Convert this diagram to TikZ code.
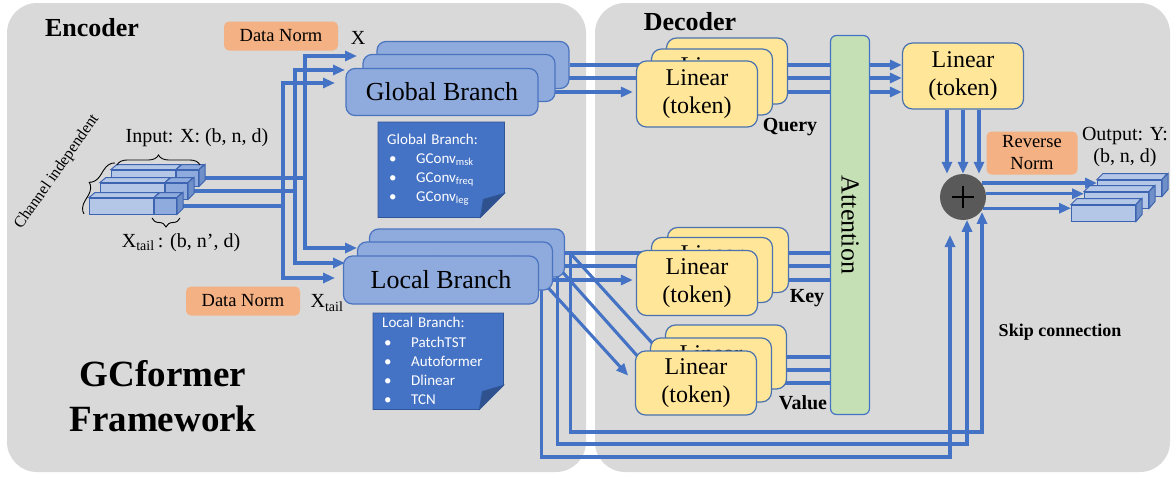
\documentclass[tikz,border=0pt]{standalone}
\usepackage{fontspec}
\setmainfont{Liberation Serif}
\newfontfamily\notefont{Carlito}
\usetikzlibrary{arrows.meta,calc,positioning,decorations.pathreplacing}
\pgfdeclarelayer{bg}
\pgfdeclarelayer{wires}
\pgfsetlayers{bg,wires,main}
\definecolor{panelgray}{HTML}{D9D9D9}
\definecolor{wireblue}{HTML}{4472C4}
\definecolor{branchblue}{HTML}{8FAADC}
\definecolor{branchedge}{HTML}{4A74C0}
\definecolor{notebox}{HTML}{4472C4}
\definecolor{noteedge}{HTML}{2F5597}
\definecolor{notefold}{HTML}{2F528F}
\definecolor{linyellow}{HTML}{FFE699}
\definecolor{linedge}{HTML}{4A72B0}
\definecolor{attgreen}{HTML}{C5E0B4}
\definecolor{normorange}{HTML}{F4B183}
\definecolor{barlight}{HTML}{B4C7E7}
\definecolor{bardark}{HTML}{8FAADC}
\definecolor{barshade}{HTML}{6F8FC8}
\definecolor{baredge}{HTML}{3D64B0}
\definecolor{plusgray}{HTML}{595959}
\newcommand{\setfs}[2]{\fontsize{#1}{#2}\selectfont}

\begin{document}
\begin{tikzpicture}[x=1pt,y=-1pt,>={Triangle[length=12pt,width=10pt]},
    panel/.style={fill=panelgray,rounded corners=30pt},
    wire/.style={draw=wireblue,line width=3.1pt},
    arr/.style={wire,->},
    branch/.style={draw=branchedge,fill=branchblue,line width=1.2pt,rounded corners=9pt,
      minimum width=192pt,minimum height=47pt,font=\setfs{26}{30}},
    lin/.style={draw=linedge,fill=linyellow,line width=1.2pt,rounded corners=10pt,
      minimum width=121pt,minimum height=66pt,align=center,font=\setfs{24}{28}},
    norm/.style={fill=normorange,rounded corners=5pt,minimum width=114pt,
      minimum height=29pt,align=center,font=\setfs{18.5}{22}},
    note/.style={text=white,font=\notefont\setfs{15}{19.2},align=left,
      inner xsep=9pt,inner ysep=0pt,anchor=north west},
    notebg/.style={fill=notebox,draw=noteedge,line width=0.8pt},
    barbody/.style={draw=baredge,fill=barlight,line width=1pt,inner sep=0pt,
      minimum width=64pt,minimum height=16pt},
    bartail/.style={draw=baredge,fill=bardark,line width=1pt,inner sep=0pt,
      minimum width=22pt,minimum height=16pt},
    barside/.style={draw=baredge,fill=barshade,line width=1pt},
    txt/.style={inner sep=0pt,font=\setfs{20}{22}},
    tag/.style={inner sep=0pt,font=\bfseries\setfs{20}{22}},
    hdr/.style={inner sep=0pt,font=\bfseries\setfs{26}{30}},
    brc/.style={draw,line width=0.9pt,decorate,decoration={brace,amplitude=10pt}}]

  \useasboundingbox (0,0) rectangle (1176,479);

  \foreach \n/\x/\y in {1/111/178,2/100/191,3/89/206}{
    \node[barbody,anchor=west] (in\n) at (\x,\y) {};
    \node[bartail,anchor=west] (tl\n) at (in\n.east) {};
    \filldraw[barbody] (in\n.north west) -- ++(6,-5) -- ++(64,0) -- (in\n.north east) -- cycle;
    \filldraw[bartail] (tl\n.north west) -- ++(6,-5) -- ++(22,0) -- (tl\n.north east) -- cycle;
    \filldraw[barside] (tl\n.north east) -- ++(6,-5) -- ++(0,16) -- (tl\n.south east) -- cycle;
  }

  \draw[brc] (117,165) -- (200,165);
  \draw[brc,decoration={amplitude=9pt}] (180,218) -- (152,218);
  \draw[brc,decoration={amplitude=12pt}] (84,214) -- (115,163);

  \node[txt] (inlab) at (197,138) {Input: X: (b, n, d)};
  \node[txt] (tllab) at (181,243) {X\textsubscript{tail}\,: (b, n’, d)};
  \node[txt,rotate=55,font=\setfs{16}{18}] (chlab) at (57,172) {Channel independent};

  \node[hdr] (enc) at (92,28) {Encoder};
  \node[hdr] (dec) at (690,22) {Decoder};
  \node[hdr,align=center,font=\bfseries\setfs{37}{45}] (name) at (163,396) {GCformer\\Framework};

  \node[norm] (dn1) at (281,36) {Data Norm};
  \node[txt] (xlab) at (358,38) {X};
  \node[norm] (dn2) at (243,301) {Data Norm};
  \node[txt] (xtl) at (327,303) {X\textsubscript{tail}};

  \node[branch] (gb1) at (473,65) {};
  \node[branch] (gb2) at (459,78) {};
  \node[branch] (gb3) at (442,92) {Global Branch};

  \node[branch,minimum width=195pt,minimum height=48pt] (lb1) at (467,253) {};
  \node[branch,minimum width=195pt,minimum height=48pt] (lb2) at (455,266) {Local Branch};
  \node[branch,minimum width=195pt,minimum height=48pt] (lb3) at (441,280) {Local Branch};

  \node[note,text width=108pt,minimum height=95pt] (gnote) at (378,122)
    {Global Branch:\\
     \hspace*{2pt}\makebox[27pt][l]{•}GConv\textsubscript{msk}\\
     \hspace*{2pt}\makebox[27pt][l]{•}GConv\textsubscript{freq}\\
     \hspace*{2pt}\makebox[27pt][l]{•}GConv\textsubscript{leg}};
  \node[note,text width=112pt,minimum height=96pt] (lnote) at (373,313)
    {Local Branch:\\
     \hspace*{2pt}\makebox[27pt][l]{•}PatchTST\\
     \hspace*{2pt}\makebox[27pt][l]{•}Autoformer\\
     \hspace*{2pt}\makebox[27pt][l]{•}Dlinear\\
     \hspace*{2pt}\makebox[27pt][l]{•}TCN};

  \node[lin] (q1) at (727,71) {};
  \node[lin] (q2) at (712,82) {Linear\\(token)};
  \node[lin] (q3) at (697,94) {Linear\\(token)};
  \node[tag] (qlab) at (790,127) {Query};

  \node[lin,minimum height=65pt] (k1) at (728,260) {};
  \node[lin,minimum height=65pt] (k2) at (712,270) {Linear\\(token)};
  \node[lin,minimum height=65pt] (k3) at (697,283) {Linear\\(token)};
  \node[tag] (klab) at (807,298) {Key};

  \node[lin,minimum height=64pt] (v1) at (726,357) {};
  \node[lin,minimum height=64pt] (v2) at (711,370) {Linear\\(token)};
  \node[lin,minimum height=64pt] (v3) at (696,383) {Linear\\(token)};
  \node[tag] (vlab) at (803,403) {Value};

  \node[draw=wireblue,fill=attgreen,line width=1.2pt,rounded corners=6pt,rotate=-90,
    minimum width=379pt,minimum height=39pt,font=\setfs{26}{30}] (att) at (850,225) {Attention};

  \node[lin] (fin) at (963,76) {Linear\\(token)};
  \node[circle,fill=plusgray,minimum size=46pt,inner sep=0pt] (plus) at (963,197) {};
  \draw[line width=2.4pt] (plus.center) +(-11,0) -- +(11,0) +(0,-11) -- +(0,11);

  \node[norm,minimum width=91pt,minimum height=43pt] (rn) at (1032,153) {Reverse\\Norm};
  \node[txt,align=center] (outlab) at (1125,147) {Output: Y:\\(b, n, d)};
  \node[tag,font=\bfseries\setfs{18}{20}] (skip) at (1060,332) {Skip connection};

  \foreach \n/\x/\y in {1/1097/188,2/1084/200,3/1071/213}{
    \node[barbody,anchor=west] (ob\n) at (\x,\y) {};
    \filldraw[barbody] (ob\n.north west) -- ++(6,-6) -- ++(64,0) -- (ob\n.north east) -- cycle;
    \filldraw[barside] (ob\n.north east) -- ++(6,-6) -- ++(0,16) -- (ob\n.south east) -- cycle;
  }

  \begin{pgfonlayer}{wires}
    \coordinate (gi1) at (357,56);
    \coordinate (gi2) at (345,70);
    \coordinate (gi3) at (335,83);
    \coordinate (li1) at (357,248);
    \coordinate (li2) at (345,263);
    \coordinate (li3) at (335,278);
    \draw[arr] (tl1.east) -| ($(gi1)+(-52,0)$) -- (gi1);
    \draw[arr] (tl1.east) -| ($(li1)+(-52,0)$) -- (li1);
    \draw[arr] (tl2.east) -| ($(gi2)+(-50,0)$) -- (gi2);
    \draw[arr] (tl2.east) -| ($(li2)+(-50,0)$) -- (li2);
    \draw[arr] (tl3.east) -| ($(gi3)+(-52,0)$) -- (gi3);
    \draw[arr] (tl3.east) -| ($(li3)+(-52,0)$) -- (li3);

    \path
    (gb1) edge[arr] (gb1 -| q1.west)
    (gb2) edge[arr] (gb2 -| q2.west)
    (gb3) edge[arr,shorten >=3pt] (gb3 -| q3.west)
    (gb1 -| q1.east) edge[arr] (gb1 -| att.west)
    (gb2 -| q2.east) edge[arr] (gb2 -| att.west)
    (gb3 -| q3.east) edge[arr] (gb3 -| att.west)
    (gb1 -| att.east) edge[arr] (gb1 -| fin.west)
    (gb2 -| att.east) edge[arr] (gb2 -| fin.west)
    (gb3 -| att.east) edge[arr] (gb3 -| fin.west);

    \coordinate (s1) at ($(lb1.east)+(5,0)$);
    \coordinate (s2) at ($(lb2.east)+(4,0)$);
    \coordinate (s3) at ($(lb3.east)+(2,0)$);
    \path
    (lb1) edge[arr] (lb1 -| k1.west)
    (lb2) edge[arr] (lb2 -| k2.west)
    (lb3) edge[arr,shorten >=3pt] (lb3 -| k3.west)
    (lb1 -| k1.east) edge[arr] (lb1 -| att.west)
    (lb2 -| k2.east) edge[arr] (lb2 -| att.west)
    (lb3 -| k3.east) edge[arr] (lb3 -| att.west)
    (s1) edge[arr] (v1.west)
    (s2) edge[arr] (v2.west)
    (s3) edge[arr,shorten >=10pt] (v3.west)
    (v1.east) edge[arr] (v1.east -| att.west)
    (v2.east) edge[arr] (v2.east -| att.west)
    (v3.east) edge[arr] (v3.east -| att.west);

    \coordinate (j1) at (982,432);
    \coordinate (j2) at (967,444);
    \coordinate (j3) at (950,457);
    \draw[arr] (s1) |- (j1) -- (j1 |- plus.-40);
    \draw[arr] (s2) |- (j2) -- (j2 |- plus.-80);
    \draw[arr,shorten >=19pt] (s3) |- (j3) -- (j3 |- plus.-125);

    \path
    ([xshift=-16pt]fin.south) edge[arr] ([xshift=-16pt]plus.north)
    (fin.south) edge[arr] (plus.north)
    ([xshift=16pt]fin.south) edge[arr] ([xshift=16pt]plus.north)
    (plus.37) edge[arr] (plus.37 -| ob1.west)
    (plus.8) edge[arr] (plus.8 -| ob2.west)
    (plus.-29) edge[arr] (plus.-29 -| ob3.west);
  \end{pgfonlayer}

  \begin{pgfonlayer}{bg}
    \fill[panel] (7,3) rectangle (586,472);
    \fill[panel] (595,3) rectangle (1170,472);
    \filldraw[notebg] (gnote.north west) -- (gnote.north east) -- ($(gnote.south east)+(0,-24)$)
      -- ($(gnote.south east)+(-24,0)$) -- (gnote.south west) -- cycle;
    \filldraw[notebg,fill=notefold] ($(gnote.south east)+(0,-24)$) -- ($(gnote.south east)+(-21,-18)$)
      -- ($(gnote.south east)+(-24,0)$) -- cycle;
    \filldraw[notebg] (lnote.north west) -- (lnote.north east) -- ($(lnote.south east)+(0,-24)$)
      -- ($(lnote.south east)+(-24,0)$) -- (lnote.south west) -- cycle;
    \filldraw[notebg,fill=notefold] ($(lnote.south east)+(0,-24)$) -- ($(lnote.south east)+(-21,-18)$)
      -- ($(lnote.south east)+(-24,0)$) -- cycle;
  \end{pgfonlayer}

\end{tikzpicture}
\end{document}
